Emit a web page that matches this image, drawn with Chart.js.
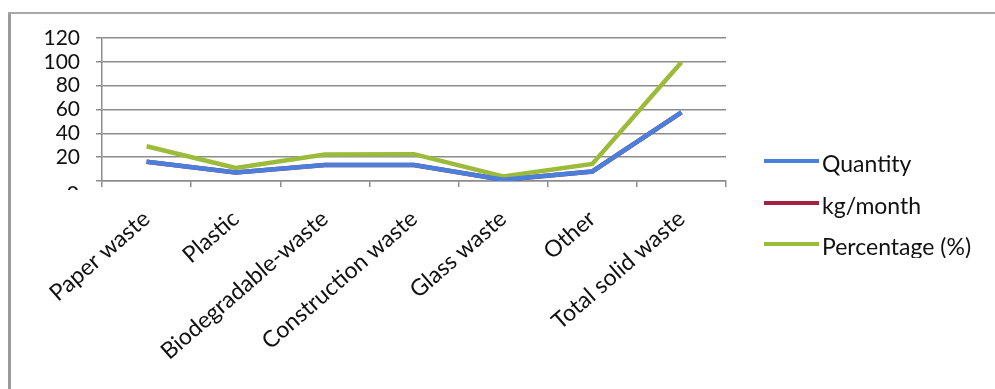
<!DOCTYPE html>
<html>
<head>
<meta charset="utf-8">
<script src="https://cdn.jsdelivr.net/npm/chart.js@4"></script>
<style>
  html, body { margin: 0; padding: 0; background: #fff; }
  #wrap { position: relative; width: 995px; height: 389px; overflow: hidden; }
  #frameLeft { position: absolute; left: 8px; top: 12px; width: 3px; height: 377px; background: #9a9a9a; }
  #frameTop { position: absolute; left: 8px; top: 12px; width: 987px; height: 2px; background: #a8a8a8; }
  #legend { position: absolute; left: 760px; top: 140px; width: 235px; height: 118px; overflow: hidden;
            font-family: Lato, sans-serif; font-size: 23px; color: #111; }
  .item { position: absolute; left: 0; height: 34px; }
  .swatch { position: absolute; left: 4px; top: 14px; width: 55px; height: 4px; }
  .label { position: absolute; left: 62px; top: 4px; white-space: nowrap; line-height: 28px; }
</style>
</head>
<body>
<div id="wrap">
  <canvas id="chart" width="995" height="389"></canvas>
  <div id="frameLeft"></div>
  <div id="frameTop"></div>
  <div id="legend"></div>
</div>
<script>
// --- data ---
const categories = ['Paper waste', 'Plastic', 'Biodegradable-waste', 'Construction waste', 'Glass waste', 'Other', 'Total solid waste'];
const quantity = [16.2, 7.1, 13.5, 13.4, 1.0, 8.0, 57.5];
const kgPerMonth = [16.2, 7.1, 13.5, 13.4, 1.0, 8.0, 57.5];
const percentage = [29.2, 11.0, 22.3, 22.5, 3.8, 14.3, 99.7];
const seriesNames = ['Quantity', 'kg/month', 'Percentage (%)'];
const seriesColors = ['#4a7fdc', '#a4223f', '#9cbb3a'];
const yTicks = [0, 20, 40, 60, 80, 100, 120];

const gridGray = '#8c8c8c';

// the scan cuts the y labels off just under the axis: hide the "0" and redraw only its top
const clipPlugin = {
    id: 'clipZero',
    afterDraw(chart) {
        const c = chart.ctx;
        const y0 = chart.scales.y.getPixelForValue(0);
        c.save();
        c.fillStyle = '#fff';
        c.fillRect(12, y0 - 12, 82, 26);
        c.beginPath();
        c.rect(12, y0 + 4, 82, 5);
        c.clip();
        c.fillStyle = '#111';
        c.font = '21px Lato';
        c.textAlign = 'right';
        c.textBaseline = 'middle';
        c.fillText(String(yTicks[0]), 79, y0 + 13);
        c.restore();
    }
};

const ctx = document.getElementById('chart').getContext('2d');
new Chart(ctx, {
    type: 'line',
    data: {
        labels: categories,
        datasets: [quantity, kgPerMonth, percentage].map((d, i) => ({
            label: seriesNames[i],
            data: d,
            borderColor: seriesColors[i],
            backgroundColor: seriesColors[i],
            borderWidth: 4.5,
            pointRadius: 0,
            tension: 0,
            fill: false,
            order: i === 1 ? 3 : (i === 0 ? 1 : 2)
        }))
    },
    options: {
        responsive: false,
        animation: false,
        layout: { padding: { left: 0, top: 38, right: 269, bottom: 0 } },
        plugins: { legend: { display: false }, tooltip: { enabled: false } },
        scales: {
            x: {
                offset: true,
                grid: { offset: true, drawOnChartArea: false, color: gridGray, lineWidth: 1.5, tickLength: 6 },
                border: { color: gridGray, width: 1.5 },
                ticks: {
                    color: '#111',
                    font: { family: 'Lato', size: 23 },
                    minRotation: 41, maxRotation: 41,
                    autoSkip: false,
                    padding: 18
                },
                afterFit(scale) { scale.height = 389 - 181; }
            },
            y: {
                min: 0, max: 120,
                afterBuildTicks(scale) { scale.ticks = yTicks.map(v => ({ value: v })); },
                grid: { color: gridGray, lineWidth: 1.5, tickLength: 6 },
                border: { color: gridGray, width: 1.5 },
                ticks: {
                    color: '#111',
                    font: { family: 'Lato', size: 21 },
                    autoSkip: false,
                    padding: 16
                },
                afterFit(scale) { scale.width = 102; }
            }
        }
    },
    plugins: [clipPlugin]
});

// legend as html, clipped at the bottom like the reference
const legend = document.getElementById('legend');
seriesNames.forEach((name, i) => {
    const item = document.createElement('div');
    item.className = 'item';
    item.style.top = (5 + i * 41.5) + 'px';
    item.innerHTML = '<div class="swatch" style="background:' + seriesColors[i] + '"></div><div class="label">' + name + '</div>';
    legend.appendChild(item);
});
</script>
</body>
</html>
